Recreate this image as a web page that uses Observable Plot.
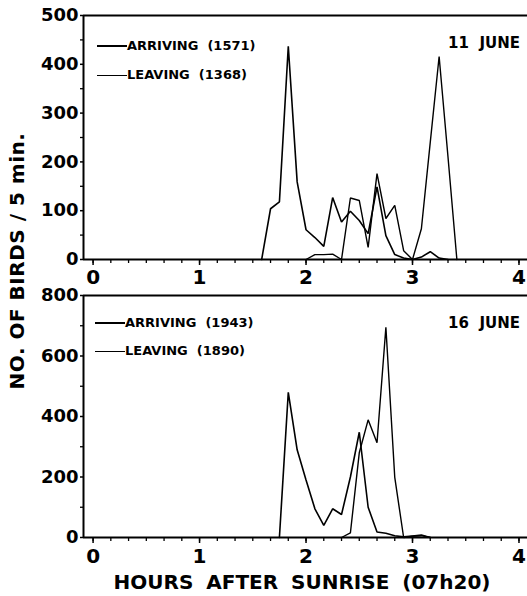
<!DOCTYPE html>
<html><head><meta charset="utf-8">
<script src="https://cdn.jsdelivr.net/npm/d3@7"></script>
<script src="https://cdn.jsdelivr.net/npm/@observablehq/plot@0.6"></script>
<style>
body{margin:0;background:#fff;}
#wrap{position:relative;width:527px;height:596px;overflow:hidden;font-family:"DejaVu Sans",sans-serif;font-weight:bold;color:#000;background:#fff;}
#wrap svg{position:absolute;left:0;overflow:visible;}
.leg{position:absolute;display:flex;align-items:center;height:16px;font-size:13px;white-space:pre;line-height:16px;}
.leg .ln{display:inline-block;width:30px;border-top:2px solid #000;}
.leg .ln.thin{border-top-width:1px;}
.date{position:absolute;font-size:15px;white-space:pre;line-height:18px;}
.ytitle{position:absolute;width:320px;text-align:center;font-size:20px;letter-spacing:0.5px;line-height:24px;transform:rotate(-90deg);white-space:pre;}
.xtitle{position:absolute;width:500px;text-align:center;font-size:20px;word-spacing:6px;line-height:24px;white-space:pre;}
</style></head><body><div id="wrap"></div>
<script>
// ---- data: minutes after sunrise (5-min bins) and birds per 5 min ----
const arrMin11 = [95,100,105,110,115,120,125,130,135,140,145,150,155,160,165,170,175,180,185,190,195,200];
const arrVal11 = [0,104,118,437,159,61,45,27,127,77,99,80,53,149,49,10,3,0,5,16,3,0];
const levMin11 = [120,125,130,135,140,145,150,155,160,165,170,175,180,185,190,195,200,205];
const levVal11 = [0,10,10,11,0,126,121,25,176,84,111,18,0,63,240,416,210,0];

const arrMin16 = [105,110,115,120,125,130,135,140,145,150,155,160,165,170,175,180,185,190];
const arrVal16 = [0,480,290,190,95,40,95,76,200,348,100,18,14,6,2,5,8,0];
const levMin16 = [140,145,150,155,160,165,170,175,180,185,190];
const levVal16 = [0,15,280,389,313,695,199,0,4,6,0];

const xTicks = [0,1,2,3,4];
const xMinorTicks = d3.range(0, 25).map(i => i / 6);
const yTicksTop = [0,100,200,300,400,500];
const yMinorTop = [50,150,250,350,450];
const yTicksBottom = [0,200,400,600,800];
const yMinorBottom = [100,300,500,700];
const xDomain = [-0.09, 4.08];

const legendTop = ["ARRIVING  (1571)", "LEAVING  (1368)"];
const legendBottom = ["ARRIVING  (1943)", "LEAVING  (1890)"];
const dateTop = "11  JUNE";
const dateBottom = "16  JUNE";

const toRows = (mins, vals) => mins.map((m, i) => ({h: m / 60, v: vals[i]}));

function panel(arr, lev, yMax, yMajor, yMinor, height, marginTop, yFontSize, ySpacing, xPad) {
  return Plot.plot({
    width: 527, height,
    marginLeft: 83, marginRight: 0, marginTop, marginBottom: 30,
    x: {domain: xDomain, label: null},
    y: {domain: [0, yMax], label: null},
    style: {fontFamily: "DejaVu Sans", fontWeight: "bold", fontSize: "18px", overflow: "visible", background: "transparent", color: "#000"},
    marks: [
      Plot.axisX(xMinorTicks, {tickSize: 4, tickFormat: () => "", strokeWidth: 1.3, label: null}),
      Plot.axisX(xTicks, {tickSize: 6, tickPadding: xPad, strokeWidth: 1.5, label: null, fontSize: 20}),
      Plot.axisY(yMinor, {tickSize: 3, tickFormat: () => "", strokeWidth: 1.3, label: null}),
      Plot.axisY(yMajor, {tickSize: 3, tickPadding: 2, strokeWidth: 1.5, label: null, fontSize: yFontSize, letterSpacing: ySpacing}),
      Plot.ruleY([0], {strokeWidth: 2.2, stroke: "#000"}),
      Plot.ruleY([yMax], {strokeWidth: 2.2, stroke: "#000"}),
      Plot.ruleX([xDomain[0]], {strokeWidth: 2, stroke: "#000"}),
      Plot.line(lev, {x: "h", y: "v", stroke: "#000", strokeWidth: 1.4, strokeLinejoin: "miter"}),
      Plot.line(arr, {x: "h", y: "v", stroke: "#000", strokeWidth: 1.6, strokeLinejoin: "miter"})
    ]
  });
}

const wrap = document.getElementById("wrap");
const topPanel = panel(toRows(arrMin11, arrVal11), toRows(levMin11, levVal11), 500, yTicksTop, yMinorTop, 289, 15, 18, "1.5px", 4);
topPanel.style.top = "0px";
wrap.appendChild(topPanel);
const botPanel = panel(toRows(arrMin16, arrVal16), toRows(levMin16, levVal16), 800, yTicksBottom, yMinorBottom, 278, 6, 18, "0px", 5);
botPanel.style.top = "289px";
wrap.appendChild(botPanel);

function legend(labels, x, y0, y1) {
  [[labels[0], y0, ""], [labels[1], y1, "thin"]].forEach(([t, y, cls]) => {
    const d = document.createElement("div");
    d.className = "leg";
    d.style.left = x + "px";
    d.style.top = (y - 8) + "px";
    d.innerHTML = `<span class="ln ${cls}"></span><span>${t}</span>`;
    wrap.appendChild(d);
  });
}
legend(legendTop, 97, 46, 75);
legend(legendBottom, 95, 323, 351);

function dateLabel(t, y) {
  const d = document.createElement("div");
  d.className = "date";
  d.style.right = "7px";
  d.style.top = (y - 9) + "px";
  d.textContent = t;
  wrap.appendChild(d);
}
dateLabel(dateTop, 43);
dateLabel(dateBottom, 323);

const yt = document.createElement("div");
yt.className = "ytitle";
yt.style.left = (17 - 160) + "px";
yt.style.top = (261 - 12) + "px";
yt.textContent = "NO. OF BIRDS / 5 min.";
wrap.appendChild(yt);

const xt = document.createElement("div");
xt.className = "xtitle";
xt.style.left = (302 - 250) + "px";
xt.style.top = (582 - 12) + "px";
xt.textContent = "HOURS AFTER SUNRISE (07h20)";
wrap.appendChild(xt);
</script></body></html>
